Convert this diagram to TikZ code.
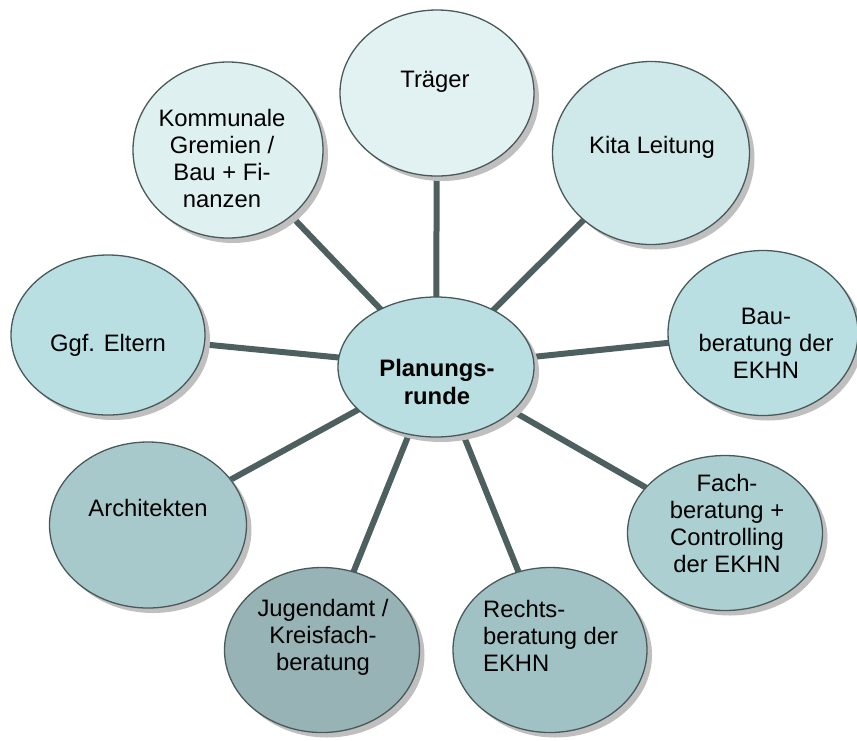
\documentclass[tikz,border=0pt]{standalone}
\usepackage{fontspec}
\setmainfont{Liberation Sans}
\usetikzlibrary{shapes.geometric,shadows}
\pgfdeclarelayer{bg}
\pgfsetlayers{bg,main}
\definecolor{edgec}{HTML}{4E5F5F}
\definecolor{rimc}{HTML}{4A5959}
\definecolor{cTr}{HTML}{E2F2F3}
\definecolor{cKo}{HTML}{DFF0F1}
\definecolor{cKi}{HTML}{CFE8EA}
\definecolor{cBa}{HTML}{B9DFE3}
\definecolor{cEl}{HTML}{B9DFE3}
\definecolor{cCe}{HTML}{B9DFE3}
\definecolor{cFa}{HTML}{ACCFD2}
\definecolor{cAr}{HTML}{A8C9CB}
\definecolor{cRe}{HTML}{A0C2C4}
\definecolor{cJu}{HTML}{97B3B5}
\tikzset{
  bubble/.style={ellipse, draw=rimc, line width=1.3pt, inner sep=0pt,
    drop shadow={shadow xshift=5pt, shadow yshift=-5pt, fill=black!25, opacity=1}},
  txt/.style={font=\fontsize{23.8}{27}\selectfont, align=center, inner sep=0pt, text depth=0pt},
  link/.style={draw=edgec, line width=6pt}
}
\begin{document}
\begin{tikzpicture}[x=1pt,y=-1pt]
\useasboundingbox (0,0) rectangle (857,740);
% bubbles
\node[bubble, fill=cCe, minimum width=196pt, minimum height=140pt] (ce) at (436,367) {};
\node[bubble, fill=cTr, minimum width=194pt, minimum height=166pt] (tr) at (437,93) {};
\node[bubble, fill=cKi, minimum width=197pt, minimum height=183pt] (ki) at (651,153) {};
\node[bubble, fill=cBa, minimum width=190pt, minimum height=165pt] (ba) at (763,333) {};
\node[bubble, fill=cFa, minimum width=195pt, minimum height=155pt] (fa) at (725,533) {};
\node[bubble, fill=cRe, minimum width=194pt, minimum height=165pt] (re) at (550,650) {};
\node[bubble, fill=cJu, minimum width=195pt, minimum height=165pt] (ju) at (322,650) {};
\node[bubble, fill=cAr, minimum width=197pt, minimum height=166pt] (ar) at (148,525) {};
\node[bubble, fill=cEl, minimum width=194pt, minimum height=160pt] (el) at (108,335) {};
\node[bubble, fill=cKo, minimum width=190pt, minimum height=176pt] (ko) at (228,150) {};
% texts
\node[txt, font=\fontsize{23.8}{28}\selectfont\bfseries] (ce-t) at (437,382) {Planungs-\\runde};
\node[txt] (tr-t) at (435,79) {Träger};
\node[txt] (ki-t) at (652,145) {Kita Leitung};
\node[txt] (ba-t) at (766,343) {Bau-\\beratung der\\EKHN};
\node[txt] (fa-t) at (727,523) {Fach-\\beratung +\\Controlling\\der EKHN};
\node[txt, align=left, anchor=west] (re-t) at (483,636) {Rechts-\\beratung der\\EKHN};
\node[txt] (ju-t) at (323,635) {Jugendamt /\\Kreisfach-\\beratung};
\node[txt] (ar-t) at (148,508) {Architekten};
\node[txt] (el-t) at (108,343) {Ggf. Eltern};
\node[txt] (ko-t) at (222,158) {Kommunale\\Gremien /\\Bau + Fi-\\nanzen};
% connectors
\begin{pgfonlayer}{bg}
\foreach \n in {tr,ki,ba,fa,re,ju,ar,el,ko}
  \draw[link] (ce.center) -- (\n.center);
\end{pgfonlayer}
\end{tikzpicture}
\end{document}
